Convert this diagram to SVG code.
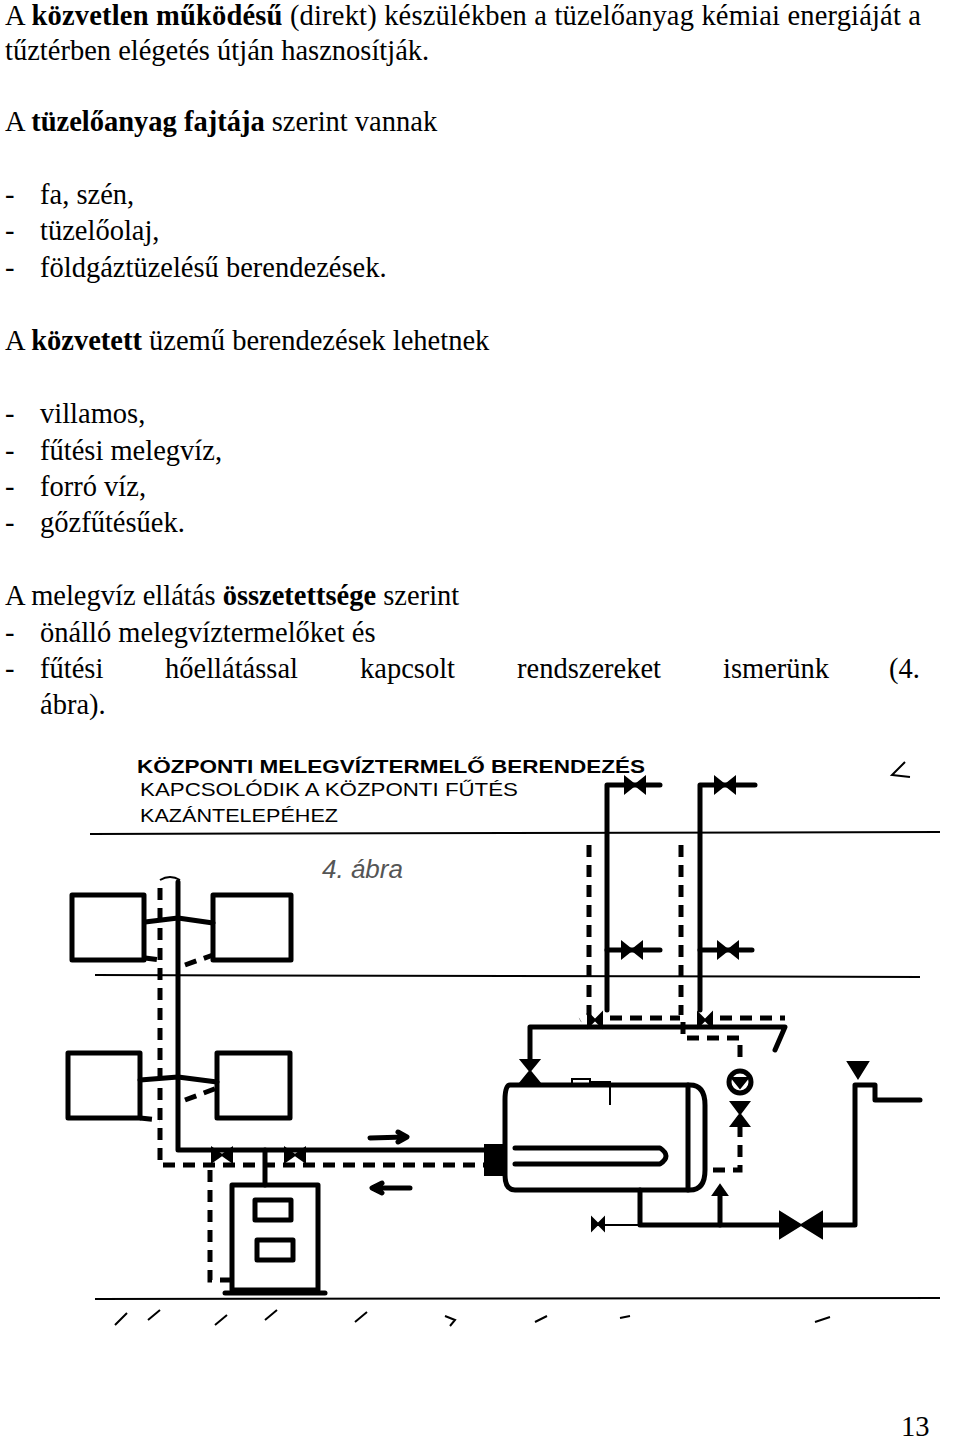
<svg xmlns="http://www.w3.org/2000/svg" width="960" height="1442" viewBox="0 0 960 1442">
<style>
.t{font-family:"Liberation Serif",serif;font-size:28.5px;fill:#000}
.h{font-family:"Liberation Sans",sans-serif;font-size:18px;fill:#000}
.p{fill:none;stroke:#000;stroke-width:5;stroke-linecap:round;stroke-linejoin:round}
.d{fill:none;stroke:#000;stroke-width:5;stroke-dasharray:12 8}
.thin{fill:none;stroke:#000;stroke-width:2}
.v{fill:#000;stroke:#000;stroke-width:2}
</style>
<rect width="960" height="1442" fill="#fff"/>
<g id="text">
<text class="t" x="5" y="25" textLength="916" lengthAdjust="spacing">A <tspan font-weight="bold">közvetlen működésű</tspan> (direkt) készülékben a tüzelőanyag kémiai energiáját a</text>
<text class="t" x="5" y="60">tűztérben elégetés útján hasznosítják.</text>
<text class="t" x="5" y="131">A <tspan font-weight="bold">tüzelőanyag fajtája</tspan> szerint vannak</text>
<text class="t" x="5" y="204">-</text><text class="t" x="40" y="204">fa, szén,</text>
<text class="t" x="5" y="240">-</text><text class="t" x="40" y="240">tüzelőolaj,</text>
<text class="t" x="5" y="277">-</text><text class="t" x="40" y="277">földgáztüzelésű berendezések.</text>
<text class="t" x="5" y="350">A <tspan font-weight="bold">közvetett</tspan> üzemű berendezések lehetnek</text>
<text class="t" x="5" y="423">-</text><text class="t" x="40" y="423">villamos,</text>
<text class="t" x="5" y="460">-</text><text class="t" x="40" y="460">fűtési melegvíz,</text>
<text class="t" x="5" y="496">-</text><text class="t" x="40" y="496">forró víz,</text>
<text class="t" x="5" y="532">-</text><text class="t" x="40" y="532">gőzfűtésűek.</text>
<text class="t" x="5" y="605">A melegvíz ellátás <tspan font-weight="bold">összetettsége</tspan> szerint</text>
<text class="t" x="5" y="642">-</text><text class="t" x="40" y="642">önálló melegvíztermelőket és</text>
<text class="t" x="5" y="678">-</text>
<text class="t" x="40" y="678">fűtési</text>
<text class="t" x="165" y="678">hőellátással</text>
<text class="t" x="360" y="678">kapcsolt</text>
<text class="t" x="517" y="678">rendszereket</text>
<text class="t" x="723" y="678">ismerünk</text>
<text class="t" x="889" y="678">(4.</text>
<text class="t" x="40" y="714">ábra).</text>
<text class="t" x="901" y="1436" font-size="18">13</text>
</g>
<g id="sketch-title">
<text class="h" x="137" y="773" font-weight="bold" textLength="508" lengthAdjust="spacingAndGlyphs">KÖZPONTI MELEGVÍZTERMELŐ BERENDEZÉS</text>
<text class="h" x="140" y="796" textLength="378" lengthAdjust="spacingAndGlyphs">KAPCSOLÓDIK A KÖZPONTI FŰTÉS</text>
<text class="h" x="140" y="822" textLength="198" lengthAdjust="spacingAndGlyphs">KAZÁNTELEPÉHEZ</text>
<text x="322" y="878" font-family="'Liberation Sans',sans-serif" font-size="26" fill="#555" font-style="italic">4. ábra</text>
<path d="M905 762 L892 775 L910 777" class="thin" stroke="#888"/>
</g>
<g id="floors" class="thin">
<path d="M90 834 L940 832"/>
<path d="M95 975 L920 977"/>
<path d="M95 1299 L940 1298"/>
<path d="M115 1325 l12 -12 M148 1320 l12 -10 M215 1325 l12 -10 M265 1320 l12 -10 M355 1322 l12 -10 M445 1316 l10 4 l-5 6 M535 1322 l12 -6 M620 1318 l10 -2 M815 1322 l15 -5"/>
</g>
<g id="radiators">
<rect x="72" y="895" width="72" height="65" class="p"/>
<rect x="213" y="895" width="78" height="65" class="p"/>
<rect x="68" y="1053" width="72" height="65" class="p"/>
<rect x="217" y="1053" width="73" height="65" class="p"/>
</g>
<g id="boiler">
<rect x="232" y="1185" width="86" height="105" class="p"/>
<rect x="255" y="1200" width="36" height="20" class="p"/>
<rect x="257" y="1240" width="36" height="20" class="p"/>
<path d="M225 1293 L325 1293" class="p"/>
</g>
<g id="tank">
<path d="M510 1085 L690 1085 Q705 1085 705 1105 L705 1170 Q705 1190 690 1190 L515 1190 Q505 1190 505 1175 L505 1100 Q505 1085 510 1085 Z" class="p"/>
<path d="M688 1085 L688 1190" class="p"/>
<path d="M515 1148 L660 1148 Q672 1156 660 1164 L515 1164" class="p"/>
<path d="M485 1145 L505 1145 L505 1175 L485 1175 Z" class="v"/>
<rect x="572" y="1079" width="18" height="7" class="thin"/>
<path d="M590 1082 L610 1082 L610 1105" class="thin"/>
</g>
<g id="connectors">
<path d="M160 880 Q170 874 180 880" class="thin"/>
<path d="M178 882 L178 1150 L490 1150" class="p"/>
<path d="M160 888 L160 1165 L490 1165" class="d"/>
<path d="M145 922 L178 918 L213 923 M140 1080 L178 1077 L217 1082" class="p"/>
<path d="M145 958 L160 960 M185 965 L213 955 M140 1118 L160 1120 M185 1100 L217 1088" class="d"/>
<path d="M265 1150 L265 1185" class="p"/>
<path d="M210 1170 L210 1280 L232 1280" class="d"/>
<path d="M370 1138 L405 1137 M398 1132 L407 1137 L398 1142" class="p"/>
<path d="M375 1188 L410 1188 M382 1183 L372 1188 L382 1193" class="p"/>
<path d="M607 1010 L607 785 L660 785" class="p"/>
<path d="M700 1010 L700 785 L755 785" class="p"/>
<path d="M607 950 L660 950 M700 950 L752 950" class="p"/>
<path d="M589 845 L589 1015 L580 1020 M681 845 L681 1015" class="d"/>
<path d="M530 1065 L530 1027 L785 1027 L775 1050" class="p"/>
<path d="M610 1018 L680 1018 M720 1018 L785 1018 M683 1022 L683 1038 L740 1038 L740 1060" class="d"/>
<path d="M740 1125 L740 1170 L705 1170" class="d"/>
<path d="M640 1190 L640 1225 L780 1225 M822 1225 L855 1225 L855 1085 L875 1085 L875 1100 L920 1100" class="p"/>
<path d="M720 1195 L720 1225" class="p"/>
<path d="M597 1225 L640 1225" class="thin"/>
</g>
<g id="valves" class="v">
<path d="M212 1148 L212 1162 L232 1148 L232 1162 Z"/>
<path d="M285 1148 L285 1162 L305 1148 L305 1162 Z"/>
<path d="M625 777 L625 793 L645 777 L645 793 Z"/>
<path d="M715 777 L715 793 L735 777 L735 793 Z"/>
<path d="M622 942 L622 958 L642 942 L642 958 Z"/>
<path d="M718 942 L718 958 L738 942 L738 958 Z"/>
<path d="M588 1013 L588 1027 L602 1013 L602 1027 Z"/>
<path d="M698 1013 L698 1027 L712 1013 L712 1027 Z"/>
<path d="M521 1060 L539 1060 L521 1082 L539 1082 Z"/>
<path d="M731 1102 L749 1102 L731 1126 L749 1126 Z"/>
<path d="M780 1212 L780 1238 L822 1212 L822 1238 Z"/>
<path d="M848 1062 L868 1062 L858 1078 Z"/>
<path d="M592 1218 L592 1230 L604 1218 L604 1230 Z"/>
<path d="M713 1195 L720 1185 L727 1195 Z"/>
</g>
<g id="pump">
<circle cx="740" cy="1082" r="11" class="p"/>
<path d="M732 1078 L748 1078 L740 1088 Z" class="v"/>
</g>
</svg>
